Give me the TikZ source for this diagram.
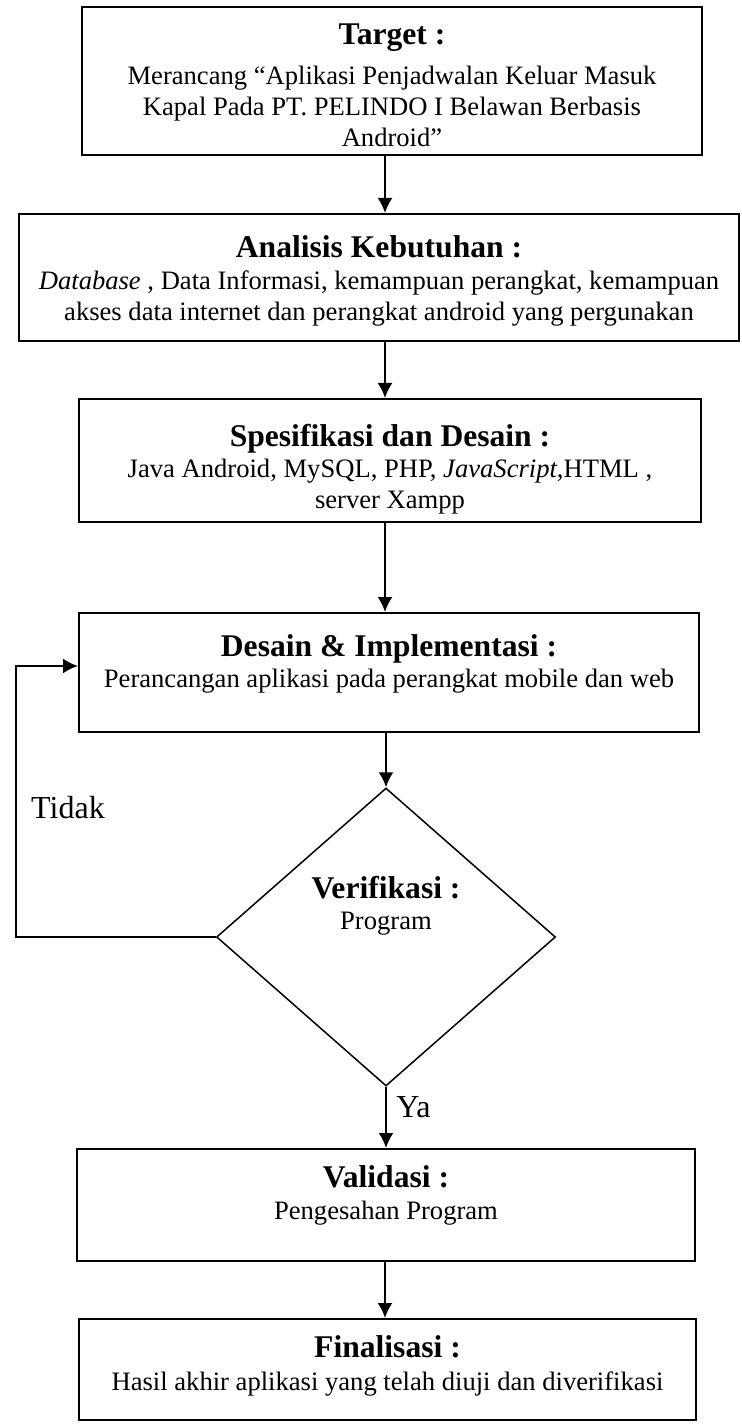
\documentclass[tikz,border=0pt]{standalone}
\usepackage{fontspec}
\setmainfont{Liberation Serif}
\usetikzlibrary{arrows.meta,shapes.geometric}
\tikzstyle{process} = [rectangle, draw=black, line width=1pt, inner sep=0pt]
\tikzstyle{decision} = [diamond, draw=black, line width=0.75pt, inner sep=0pt]
\tikzstyle{judul} = [anchor=base, inner sep=0pt, font=\fontsize{15.8}{19}\selectfont\bfseries]
\tikzstyle{isi} = [anchor=north, inner sep=0pt, align=center, font=\fontsize{13.3}{15.5}\selectfont]
\tikzstyle{ket} = [inner sep=0pt, font=\fontsize{16}{19}\selectfont]

\begin{document}
\begin{tikzpicture}[x=0.5pt, y=-0.5pt]
    \useasboundingbox (0,0) rectangle (741,1427);
        \node[process, minimum width=310pt, minimum height=74pt] (target) at (392,81) {};
        \node[process, minimum width=360pt, minimum height=63.5pt] (analisis) at (379,277.5) {};
        \node[process, minimum width=311pt, minimum height=61.5pt] (spesifikasi) at (390,460.5) {};
        \node[process, minimum width=310pt, minimum height=59.5pt] (desain) at (389,672.5) {};
        \node[decision, minimum width=169.5pt, minimum height=149pt] (verif) at (386,937) {};
        \node[process, minimum width=309pt, minimum height=56pt] (validasi) at (386,1205) {};
        \node[process, minimum width=308.5pt, minimum height=50.5pt] (finalisasi) at (387.5,1369.5) {};
        % teks di dalam kotak
        \node[judul] (targetjudul) at (392,45) {Target :};
        \node[isi] (targetisi) at (392,65.5) {Merancang “Aplikasi Penjadwalan Keluar Masuk\\Kapal Pada PT. PELINDO I Belawan Berbasis\\Android”};
        \node[judul] (analisisjudul) at (379,258) {Analisis Kebutuhan :};
        \node[isi] (analisisisi) at (379,270.5) {\textit{Database} , Data Informasi, kemampuan perangkat, kemampuan\\akses data internet dan perangkat android yang pergunakan};
        \node[judul] (spesifikasijudul) at (390,446) {Spesifikasi dan Desain :};
        \node[isi] (spesifikasiisi) at (390,458.5) {Java Android, MySQL, PHP, \textit{JavaScript},HTML ,\\server Xampp};
        \node[judul] (desainjudul) at (389,656) {Desain \& Implementasi :};
        \node[isi] (desainisi) at (389,668.5) {Perancangan aplikasi pada perangkat mobile dan web};
        \node[judul] (verifjudul) at (386,898) {Verifikasi :};
        \node[isi] (verifisi) at (386,911.5) {Program};
        \node[judul] (validasijudul) at (386,1187) {Validasi :};
        \node[isi] (validasiisi) at (386,1200.5) {Pengesahan Program};
        \node[judul] (finalisasijudul) at (387.5,1357) {Finalisasi :};
        \node[isi] (finalisasiisi) at (387.5,1371.5) {Hasil akhir aplikasi yang telah diuji dan diverifikasi};
        \node[ket] (tidak) at (68,808) {Tidak};
        \node[ket, anchor=base west] (ya) at (396,1117) {Ya};
        \coordinate (lajur) at (385,0);
        \coordinate (balik) at (16,666);
    \begin{scope}[-{Latex[length=7.5pt,width=7.5pt]}, line width=1pt]
        \draw (target.south -| lajur) -- (analisis.north -| lajur);
        \draw (analisis.south -| lajur) -- (spesifikasi.north -| lajur);
        \draw (spesifikasi.south -| lajur) -- (desain.north -| lajur);
        \draw (desain.south -| verif.north) -- (verif.north);
        \draw (verif.south) -- (validasi.north -| verif.south);
        \draw (validasi.south -| lajur) -- (finalisasi.north -| lajur);
        \draw (verif.west) -| (balik) -- (balik -| desain.west);
    \end{scope}
\end{tikzpicture}
\end{document}
